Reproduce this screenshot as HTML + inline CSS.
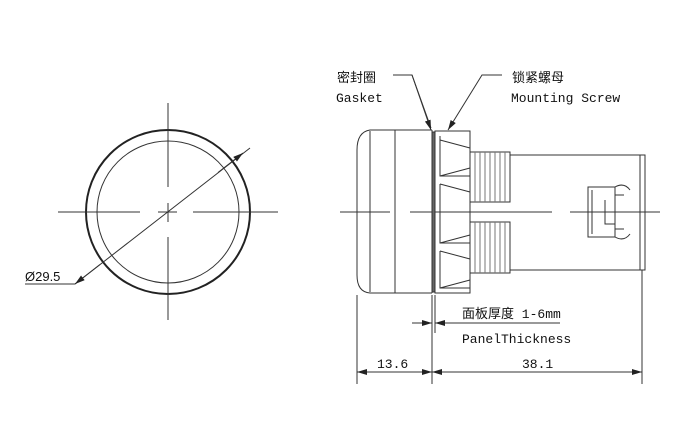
<!DOCTYPE html>
<html><head><meta charset="utf-8"><style>
body{margin:0;background:#fff}
svg{display:block}
.t{font-family:"Liberation Mono","Noto Sans CJK SC",monospace;font-size:13px;fill:#111}
.c{font-family:"Liberation Sans","Noto Sans CJK SC",sans-serif;font-size:13px;fill:#111}
</style></head><body>
<svg width="680" height="440" viewBox="0 0 680 440" xmlns="http://www.w3.org/2000/svg">
<defs><marker id="a" viewBox="0 0 10 6" refX="10" refY="3" markerWidth="10" markerHeight="6" orient="auto-start-reverse" markerUnits="userSpaceOnUse"><path d="M0,0L10,3L0,6z" fill="#222"/></marker></defs>
<g stroke="#333" fill="none" stroke-width="1">
<!-- left view -->
<circle cx="168" cy="212" r="82" stroke-width="2" stroke="#222"/>
<circle cx="168" cy="212" r="71"/>
<path d="M168 103V187M168 203V222M168 237V320M58 212H140M158 212H177M193 212H278"/>
<path d="M25 284H75L250 148"/>
<path d="M100 264.5L75 284" marker-end="url(#a)"/>
<path d="M218 172.5L243 153" marker-end="url(#a)"/>
<!-- side view centerline -->
<path d="M340 212H390M410 212H552M570 212H660"/>
<!-- front cap -->
<path d="M432 130H370Q357 132 357 150V275Q357 292 370 293H432"/>
<path d="M370 131V292M395 130V293M432 130V293"/>
<rect x="432" y="132" width="3" height="160" fill="#666"/>
<!-- nut -->
<rect x="435" y="131" width="35" height="162"/>
<path d="M440 136V176H470M440 184V243H470M440 251V288H470M440 140L470 148M440 176L470 168M440 184L470 192M440 243L470 235M440 251L470 259M440 288L470 280"/>
<!-- threads -->
<path d="M470 152H510V202H470M470 222H510V273H470"/>
<path d="M475 152V202M480 152V202M485 152V202M490 152V202M495 152V202M500 152V202M505 152V202M475 222V273M480 222V273M485 222V273M490 222V273M495 222V273M500 222V273M505 222V273" stroke="#777"/>
<!-- body -->
<path d="M510 155H640V270H510M640 155H645V270H640"/>
<rect x="588" y="187" width="27" height="50"/>
<path d="M592 190V234M615 195H624M615 229H624M605 200V224H615M615 187Q624 182 630 190M615 237Q624 242 630 234"/>
<!-- leaders -->
<path d="M393 75H412L431 128" />
<path d="M412 75L431 130" marker-end="url(#a)"/>
<path d="M502 75H482L448 130" marker-end="url(#a)"/>
<!-- dimensions -->
<path d="M357 295V384M432 295V384M435 295V333M642 270V384"/>
<path d="M412 323H432" marker-end="url(#a)"/>
<path d="M455 323H435H560" />
<path d="M455 323H435" marker-end="url(#a)"/>
<path d="M357 372H432" marker-start="url(#a)" marker-end="url(#a)"/>
<path d="M432 372H642" marker-start="url(#a)" marker-end="url(#a)"/>
</g>
<text x="25" y="281" class="c" font-size="14">Ø29.5</text>
<text x="337" y="82" class="c">密封圈</text>
<text x="336" y="102" class="t">Gasket</text>
<text x="512" y="82" class="c">锁紧螺母</text>
<text x="511" y="102" class="t">Mounting Screw</text>
<text x="462" y="318" class="t">面板厚度 1-6mm</text>
<text x="462" y="343" class="t">PanelThickness</text>
<text x="377" y="368" class="t">13.6</text>
<text x="522" y="368" class="t">38.1</text>
</svg>
</body></html>
